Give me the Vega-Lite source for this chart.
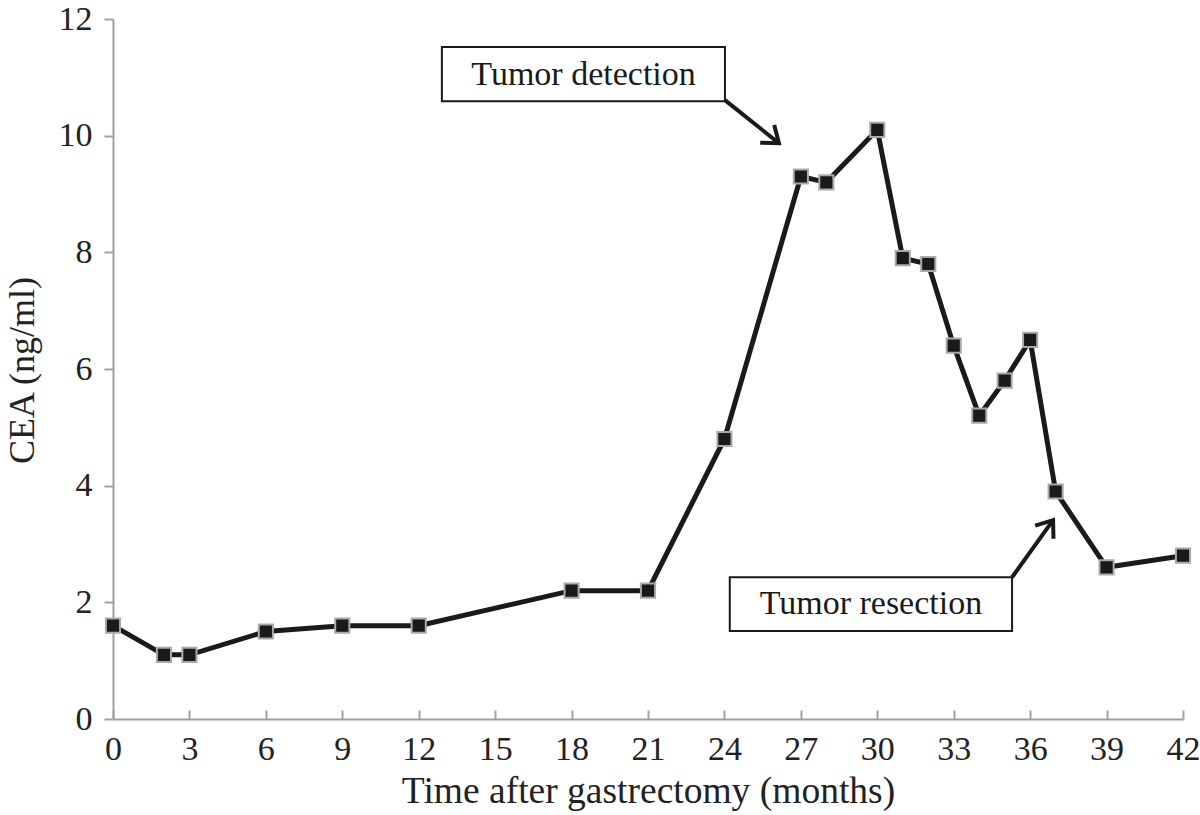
{
  "$schema": "https://vega.github.io/schema/vega-lite/v6.json",
  "autosize": "none",
  "width": 1070,
  "height": 700,
  "padding": {"left": 113, "top": 19, "right": 17, "bottom": 96},
  "background": "white",
  "config": {
    "view": {"stroke": null},
    "font": "Liberation Serif",
    "axis": {
      "grid": false,
      "domainColor": "#a0a0a0",
      "domainWidth": 2,
      "tickColor": "#a0a0a0",
      "tickWidth": 2,
      "labelFont": "Liberation Serif",
      "titleFont": "Liberation Serif",
      "labelFontSize": 34,
      "titleFontSize": 36,
      "labelColor": "#222",
      "titleColor": "#222",
      "titleFontWeight": "normal"
    }
  },
  "datasets": {
    "cea": [
      {"x": 0, "y": 1.6}, {"x": 2, "y": 1.1}, {"x": 3, "y": 1.1}, {"x": 6, "y": 1.5},
      {"x": 9, "y": 1.6}, {"x": 12, "y": 1.6}, {"x": 18, "y": 2.2}, {"x": 21, "y": 2.2},
      {"x": 24, "y": 4.8}, {"x": 27, "y": 9.3}, {"x": 28, "y": 9.2}, {"x": 30, "y": 10.1},
      {"x": 31, "y": 7.9}, {"x": 32, "y": 7.8}, {"x": 33, "y": 6.4}, {"x": 34, "y": 5.2},
      {"x": 35, "y": 5.8}, {"x": 36, "y": 6.5}, {"x": 37, "y": 3.9}, {"x": 39, "y": 2.6},
      {"x": 42, "y": 2.8}
    ],
    "boxes": [
      {"x": 12.91, "x2": 24.02, "y": 11.52, "y2": 10.59},
      {"x": 24.21, "x2": 35.29, "y": 2.43, "y2": 1.51}
    ],
    "labels": [
      {"x": 18.47, "y": 11.04, "label": "Tumor detection"},
      {"x": 29.75, "y": 1.97, "label": "Tumor resection"}
    ],
    "shafts": [
      {"x": 24.02, "y": 10.61, "x2": 26.14, "y2": 9.87},
      {"x": 35.29, "y": 2.43, "x2": 36.9, "y2": 3.41}
    ],
    "heads": [
      {"x": 26.14, "y": 9.87, "angle": 38.5},
      {"x": 36.9, "y": 3.41, "angle": 305.7}
    ]
  },
  "encoding": {
    "x": {
      "field": "x", "type": "quantitative",
      "scale": {"domain": [0, 42], "nice": false, "zero": false},
      "axis": {
        "title": "Time after gastrectomy (months)",
        "values": [0, 3, 6, 9, 12, 15, 18, 21, 24, 27, 30, 33, 36, 39, 42],
        "tickSize": -9,
        "labelPadding": 22,
        "titlePadding": 6,
        "titleFontSize": 37.5,
        "labelFlush": false
      }
    },
    "y": {
      "field": "y", "type": "quantitative",
      "scale": {"domain": [0, 12], "nice": false},
      "axis": {
        "title": "CEA (ng/ml)",
        "values": [0, 2, 4, 6, 8, 10, 12],
        "tickSize": 9,
        "labelPadding": 12,
        "titleX": -80,
        "titleY": 351,
        "titleAlign": "center",
        "titleBaseline": "alphabetic",
        "titleAngle": 270
      }
    }
  },
  "layer": [
    {
      "data": {"name": "boxes"},
      "mark": {"type": "rect", "fill": "white", "stroke": "#1a1a1a", "strokeWidth": 2},
      "encoding": {"x2": {"field": "x2"}, "y2": {"field": "y2"}}
    },
    {
      "data": {"name": "labels"},
      "mark": {"type": "text", "font": "Liberation Serif", "fontSize": 34, "color": "#1a1a1a", "baseline": "middle", "align": "center"},
      "encoding": {"text": {"field": "label"}}
    },
    {
      "data": {"name": "shafts"},
      "mark": {"type": "rule", "color": "#1a1a1a", "strokeWidth": 4},
      "encoding": {"x2": {"field": "x2"}, "y2": {"field": "y2"}}
    },
    {
      "data": {"name": "heads"},
      "mark": {"type": "point", "shape": "M-1,-0.75L0,0L-1,0.75", "filled": false, "stroke": "#1a1a1a", "strokeWidth": 4, "size": 900, "opacity": 1},
      "encoding": {"angle": {"field": "angle", "type": "quantitative", "scale": null}}
    },
    {
      "data": {"name": "cea"},
      "mark": {"type": "line", "color": "#1a1a1a", "strokeWidth": 5},
      "encoding": {}
    },
    {
      "data": {"name": "cea"},
      "mark": {"type": "point", "shape": "square", "filled": true, "fill": "#1a1a1a", "stroke": "#aaaaaa", "strokeWidth": 2, "size": 200, "opacity": 1},
      "encoding": {}
    }
  ]
}
